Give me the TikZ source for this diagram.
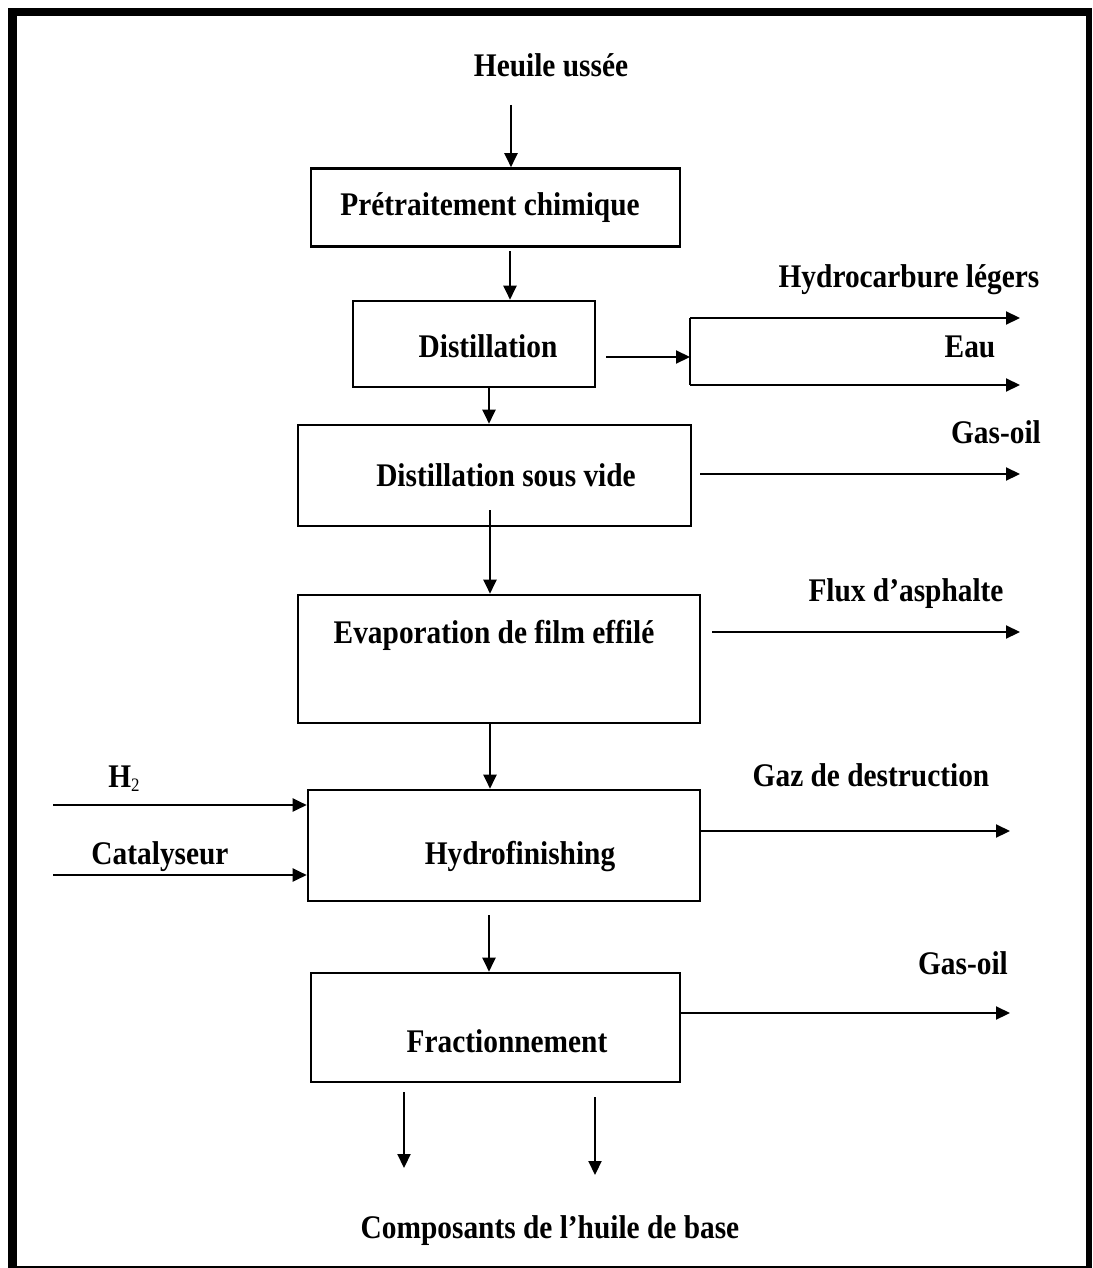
\documentclass[tikz,border=0pt]{standalone}
\usepackage{fontspec}
\setmainfont{Liberation Serif}[FakeStretch=0.89]
\usetikzlibrary{arrows.meta,calc}

\tikzset{
  procbox/.style={draw, line width=2.6pt, inner sep=0pt},
  lbl/.style={inner sep=0pt, text height=22pt, text depth=0pt,
              font=\fontsize{33}{39}\selectfont\bfseries},
  flow/.style={line width=2.1pt, -{Triangle[length=14pt,width=13pt]}},
  pipe/.style={line width=2.1pt},
  frame/.style={fill=black, draw=none}
}

\begin{document}
\begin{tikzpicture}[x=1pt, y=-1pt]
\useasboundingbox (0,0) rectangle (1092,1268);

% page frame
\fill[frame] (8,8) rectangle (1092,16);
\fill[frame] (8,8) rectangle (17,1268);
\fill[frame] (1086,8) rectangle (1092,1268);
\fill[frame] (8,1266) rectangle (1092,1268);

% process boxes
\node[procbox, minimum width=369pt, minimum height=78pt]  (pre)   at (495.5,207.5) {};
\node[procbox, minimum width=242pt, minimum height=86pt]  (dist)  at (474,344) {};
\node[procbox, minimum width=393pt, minimum height=101pt] (vide)  at (494.5,475.5) {};
\node[procbox, minimum width=402pt, minimum height=128pt] (evap)  at (499,659) {};
\node[procbox, minimum width=392pt, minimum height=111pt] (hydro) at (504,845.5) {};
\node[procbox, minimum width=369pt, minimum height=109pt] (frac)  at (495.5,1027.5) {};

% box captions
\node[lbl] (tpre)   at (490,204)  {Prétraitement chimique};
\node[lbl] (tdist)  at (488,346)  {Distillation};
\node[lbl] (tvide)  at (506,475)  {Distillation sous vide};
\node[lbl] (tevap)  at (494,632)  {Evaporation de film effilé};
\node[lbl] (thydro) at (520,853)  {Hydrofinishing};
\node[lbl] (tfrac)  at (507,1041) {Fractionnement};

% stream labels
\node[lbl] (feed)  at (551,66)   {Heuile ussée};
\node[lbl] (hcl)   at (909,276)  {Hydrocarbure légers};
\node[lbl] (eau)   at (970,346)  {Eau};
\node[lbl] (go1)   at (996,432)  {Gas-oil};
\node[lbl] (flux)  at (906,590)  {Flux d’asphalte};
\node[lbl] (htwo)  at (124,776)  {H\raisebox{-4pt}{\fontsize{19}{19}\selectfont\mdseries 2}};
\node[lbl] (cata)  at (160,853)  {Catalyseur};
\node[lbl] (gaz)   at (871,775)  {Gaz de destruction};
\node[lbl] (go2)   at (963,963)  {Gas-oil};
\node[lbl] (base)  at (550,1227) {Composants de l’huile de base};

% free ends of the streams
\coordinate (cfeed) at (511,105);
\coordinate (c12)   at (510,251);
\coordinate (c23)   at (489,387);
\coordinate (c34)   at (490,510);
\coordinate (c45)   at (490,723);
\coordinate (c56)   at (489,915);
\coordinate (csplit) at (690,357);
\coordinate (split1) at (690,318);
\coordinate (split2) at (690,385);
\coordinate (o1)  at (1020,318);
\coordinate (o2)  at (1020,385);
\coordinate (o3)  at (1020,474);
\coordinate (o4)  at (1020,632);
\coordinate (o5)  at (1010,831);
\coordinate (o6)  at (1010,1013);
\coordinate (ih2) at (53,805);
\coordinate (ica) at (53,875);
\coordinate (p1s) at (404,1092);
\coordinate (p1e) at (404,1168);
\coordinate (p2s) at (595,1097);
\coordinate (p2e) at (595,1175);

% main line
\draw[flow] (cfeed) -- (cfeed |- pre.north);
\draw[flow] (c12) -- (c12 |- dist.north);
\draw[flow] (c23) -- (c23 |- vide.north);
\draw[flow] (c34) -- (c34 |- evap.north);
\draw[flow] (c45) -- (c45 |- hydro.north);
\draw[flow] (c56) -- (c56 |- frac.north);

% light ends and water
\draw[flow] (606,357) -- (csplit);
\draw[pipe] (split1) -- (split2);
\draw[flow] (split1) -- (o1);
\draw[flow] (split2) -- (o2);

% side draws
\draw[flow] (700,474) -- (o3);
\draw[flow] (712,632) -- (o4);
\draw[flow] (hydro.east |- o5) -- (o5);
\draw[flow] (frac.east |- o6) -- (o6);

% hydrofinishing feeds
\draw[flow] (ih2) -- (ih2 -| hydro.west);
\draw[flow] (ica) -- (ica -| hydro.west);

% base oil products
\draw[flow] (p1s) -- (p1e);
\draw[flow] (p2s) -- (p2e);
\end{tikzpicture}
\end{document}
